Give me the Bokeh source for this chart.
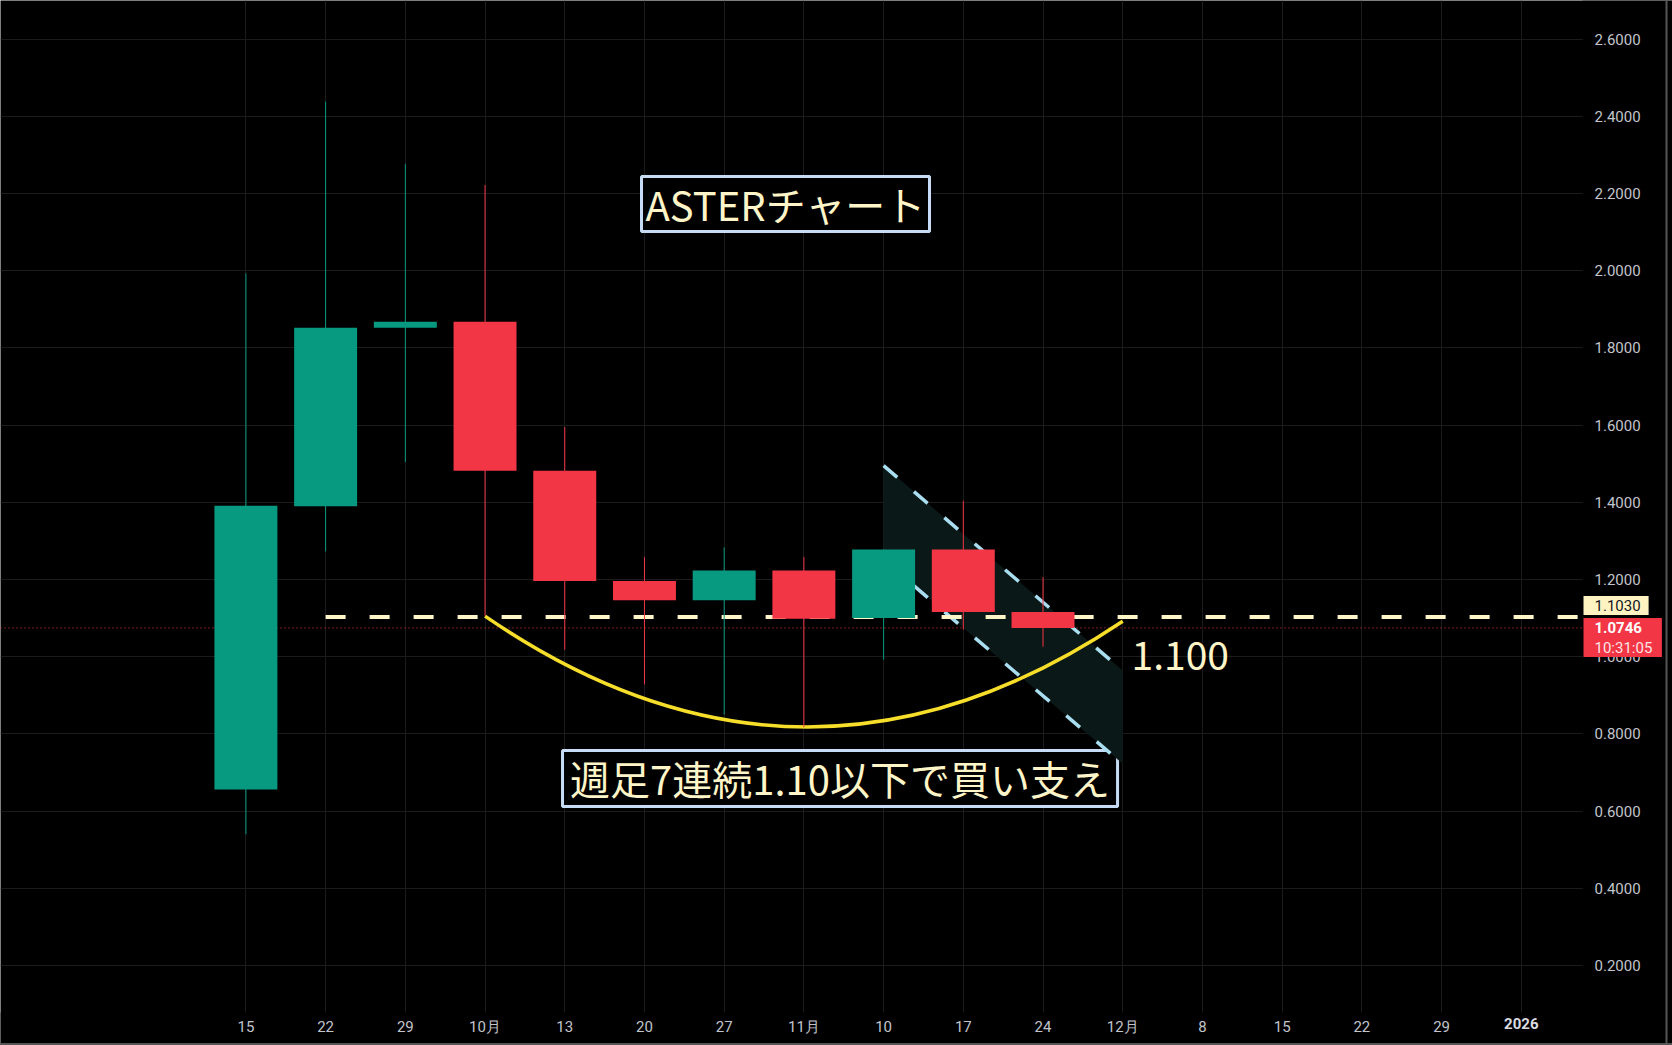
from datetime import date
from bokeh.plotting import figure
from bokeh.models import (Range1d, FixedTicker, NumeralTickFormatter, Label,
                          BoxAnnotation, Span, ColumnDataSource, LinearAxis)
from bokeh.embed import file_html
from bokeh.resources import INLINE

# ---------------- data ----------------
dates = ["2025-09-15", "2025-09-22", "2025-09-29", "2025-10-06", "2025-10-13",
         "2025-10-20", "2025-10-27", "2025-11-03", "2025-11-10", "2025-11-17",
         "2025-11-24"]
opens = [0.656, 1.390, 1.852, 1.868, 1.482, 1.196, 1.146, 1.223, 1.100, 1.278, 1.116]
highs = [1.993, 2.438, 2.277, 2.222, 1.595, 1.258, 1.283, 1.258, 1.278, 1.404, 1.206]
lows = [0.540, 1.273, 1.504, 1.106, 1.018, 0.928, 0.850, 0.817, 0.992, 1.070, 1.026]
closes = [1.391, 1.852, 1.868, 1.482, 1.196, 1.146, 1.223, 1.098, 1.278, 1.116, 1.0746]

week_labels = ["15", "22", "29", "10月", "13", "20", "27", "11月", "10", "17",
               "24", "12月", "8", "15", "22", "29", "2026"]
price_ticks = [0.2, 0.4, 0.6, 0.8, 1.0, 1.2, 1.4, 1.6, 1.8, 2.0, 2.2, 2.4, 2.6]

support_level = 1.103
support_start = "2025-09-22"
last_price = 1.0746
last_time = "10:31:05"

# rounded-bottom arc drawing (start, bottom, end)
arc_dates = ["2025-10-06", "2025-11-03", "2025-12-01"]
arc_prices = [1.105, 0.818, 1.092]

# descending channel (start, end)
channel_dates = ["2025-11-10", "2025-12-01"]
channel_upper = [1.495, 0.964]
channel_lower = [1.2505, 0.7225]

title_text = "ASTERチャート"
note_text = "週足7連続1.10以下で買い支え"
level_text = "1.100"

# ---------------- helpers ----------------
base = date(2025, 9, 15)


def widx(s):
    y, m, d = map(int, s.split("-"))
    return (date(y, m, d) - base).days / 7.0


xs = [widx(d) for d in dates]
GREEN, RED = "#089981", "#f23645"
colors = [GREEN if c >= o else RED for o, c in zip(opens, closes)]
src = ColumnDataSource(dict(
    x=xs, top=[max(o, c) for o, c in zip(opens, closes)],
    bottom=[min(o, c) for o, c in zip(opens, closes)],
    high=highs, low=lows, color=colors))

# pane edges (price scale sits right of PANE_RIGHT, time scale below PANE_BOTTOM)
PANE_RIGHT = 16.768
PANE_BOTTOM = 0.0782

# ---------------- figure ----------------
p = figure(width=1672, height=1045,
           x_range=Range1d(-3.0787, 17.897), y_range=Range1d(-0.0073, 2.7000),
           x_axis_location=None, y_axis_location=None,
           output_backend="svg", toolbar_location=None,
           min_border=0, min_border_left=0, min_border_top=0,
           min_border_right=0, min_border_bottom=0,
           background_fill_color="#000000",
           border_fill_color="#000000", outline_line_color=None)

p.xgrid.ticker = FixedTicker(ticks=list(range(len(week_labels))))
p.ygrid.ticker = FixedTicker(ticks=price_ticks)
for g in (p.xgrid, p.ygrid):
    g.grid_line_color = "#1b1b1b"
    g.grid_line_width = 1

AXIS_FONT = "Roboto"
AXIS_COLOR = "#c2c5cc"


def style_axis(a, size="15px", bold=False, color=AXIS_COLOR):
    a.axis_line_color = None
    a.major_tick_line_color = None
    a.minor_tick_line_color = None
    a.major_tick_out = 0
    a.major_tick_in = 0
    a.major_label_text_font = AXIS_FONT
    a.major_label_text_font_size = size
    a.major_label_text_color = color
    if bold:
        a.major_label_text_font_style = "bold"


# time axis
xa = LinearAxis(ticker=FixedTicker(ticks=list(range(len(week_labels) - 1))),
                major_label_overrides={i: lab for i, lab in enumerate(week_labels[:-1])},
                fixed_location=PANE_BOTTOM, major_label_standoff=6)
style_axis(xa)
p.add_layout(xa, "below")
n = len(week_labels) - 1
xa2 = LinearAxis(ticker=FixedTicker(ticks=[n]),
                 major_label_overrides={n: week_labels[n]},
                 fixed_location=PANE_BOTTOM, major_label_standoff=6)
style_axis(xa2, bold=True, color="#d9dbe0")
p.add_layout(xa2, "below")

# price axis
ya = LinearAxis(ticker=FixedTicker(ticks=price_ticks),
                formatter=NumeralTickFormatter(format="0.0000"),
                fixed_location=PANE_RIGHT, major_label_standoff=12)
style_axis(ya)
p.add_layout(ya, "right")

# annotation boxes (beneath drawings)
CREAM = "#fff5c8"
BOXLINE = "#c6dbf5"
p.add_layout(BoxAnnotation(left=4.963, right=8.576, bottom=2.1016, top=2.244,
                           fill_color="#000000", fill_alpha=1.0,
                           line_color=BOXLINE, line_alpha=1.0, line_width=3,
                           level="underlay"))
p.add_layout(BoxAnnotation(left=3.972, right=10.935, bottom=0.612, top=0.757,
                           fill_color="#000000", fill_alpha=1.0,
                           line_color=BOXLINE, line_alpha=1.0, line_width=3,
                           level="underlay"))

# current price line
p.add_layout(Span(location=last_price, dimension="width", line_color=RED,
                  line_width=1, line_dash="1 3", level="underlay"))

# channel
cx = [widx(d) for d in channel_dates]
p.patch(x=[cx[0], cx[1], cx[1], cx[0]],
        y=[channel_upper[0], channel_upper[1], channel_lower[1], channel_lower[0]],
        fill_color="#0a1817", line_color=None)
p.segment(x0=[cx[0], cx[0]], y0=[channel_upper[0], channel_lower[0]],
          x1=[cx[1], cx[1]], y1=[channel_upper[1], channel_lower[1]],
          line_color="#a9def0", line_width=3.5, line_dash="18 22")

# support dashed line
p.ray(x=[widx(support_start)], y=[support_level], length=0, angle=0,
      line_color=CREAM, line_width=4, line_dash="20 24")

# arc (quadratic curve through the bottom point)
ax = [widx(d) for d in arc_dates]
ctrl_y = 2 * arc_prices[1] - 0.5 * (arc_prices[0] + arc_prices[2])
p.quadratic(x0=[ax[0]], y0=[arc_prices[0]], x1=[ax[2]], y1=[arc_prices[2]],
            cx=[ax[1]], cy=[ctrl_y], line_color="#f6de2a", line_width=3.5)

# candles
p.segment(x0="x", y0="high", x1="x", y1="low", line_color="color",
          line_width=1, source=src)
p.vbar(x="x", width=0.79, top="top", bottom="bottom", fill_color="color",
       line_color=None, source=src)

# scale areas (black) over the pane edges
p.add_layout(BoxAnnotation(left=PANE_RIGHT, fill_color="#000000", fill_alpha=1.0,
                           line_color=None, level="glyph"))
p.add_layout(BoxAnnotation(top=PANE_BOTTOM, fill_color="#000000", fill_alpha=1.0,
                           line_color=None, level="glyph"))
# window borders
p.add_layout(Span(location=17.822, dimension="height", line_color="#555555",
                  line_width=2, level="overlay"))
p.add_layout(Span(location=-0.0034, dimension="width", line_color="#555555",
                  line_width=2, level="overlay"))

# texts
BIG_FONT = "Noto Sans CJK JP"
p.add_layout(Label(x=6.770, y=2.1728, text=title_text, text_align="center",
                   text_baseline="middle", text_font=BIG_FONT,
                   text_font_size="40px", text_color=CREAM))
p.add_layout(Label(x=7.453, y=0.6845, text=note_text, text_align="center",
                   text_baseline="middle", text_font=BIG_FONT,
                   text_font_size="40px", text_color=CREAM))
p.add_layout(Label(x=11.11, y=1.003, text=level_text, text_align="left",
                   text_baseline="middle", text_font=BIG_FONT,
                   text_font_size="39px", text_color=CREAM))

# price-axis tags  (padding = left, right, top, bottom)
p.add_layout(Label(x=1583, x_units="screen", y=support_level, y_offset=21,
                   text=f"{support_level:.4f}", text_align="left",
                   text_baseline="top", text_font=AXIS_FONT,
                   text_font_size="15px", text_color="#131722",
                   background_fill_color="#fff3c2", background_fill_alpha=1.0,
                   padding=(11, 8, 4, 4)))
p.add_layout(Label(x=1583, x_units="screen", y=last_price, y_offset=10,
                   text=f"{last_price:.4f}", text_align="left",
                   text_baseline="top", text_font=AXIS_FONT,
                   text_font_size="15px", text_font_style="bold",
                   text_color="#ffffff",
                   background_fill_color=RED, background_fill_alpha=1.0,
                   padding=(11, 20, 4, 24)))
p.add_layout(Label(x=1594, x_units="screen", y=last_price, y_offset=-20,
                   text=last_time, text_align="left", text_baseline="middle",
                   text_font=AXIS_FONT, text_font_size="15px",
                   text_color="#ffe2e4"))

open("out.html", "w").write(file_html(p, INLINE))
